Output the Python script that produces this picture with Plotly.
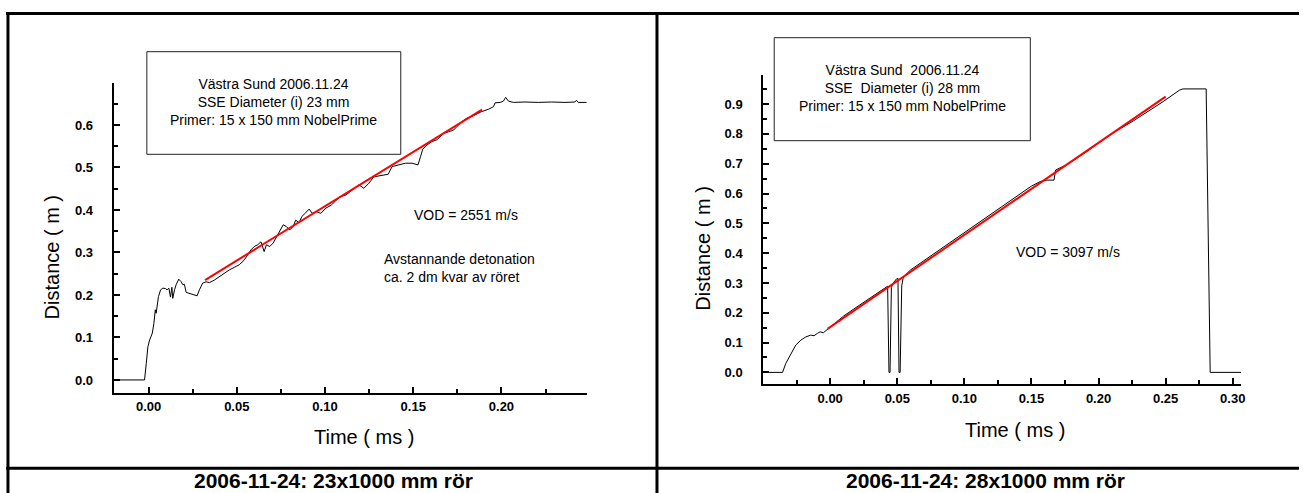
import plotly.graph_objects as go

# ---------------- data ----------------
# Left panel: 23 mm tube
time_left = [-0.020, -0.0023, -0.0013, -0.0004, 0.0006, 0.0021, 0.0030, 0.0038, 0.0043, 0.0049,
             0.0056, 0.0068, 0.0081, 0.0096, 0.0105, 0.0115, 0.0124, 0.0132, 0.0137, 0.0147,
             0.0156, 0.0171, 0.0185, 0.0194, 0.0203, 0.0213, 0.0232, 0.0250, 0.0275, 0.0288,
             0.0307, 0.0326, 0.0345, 0.0373, 0.0401, 0.0429, 0.0458, 0.0486, 0.0514, 0.0542,
             0.0561, 0.0580, 0.0599, 0.0618, 0.0637, 0.0655, 0.0668, 0.0687, 0.0706, 0.0725,
             0.0744, 0.0763, 0.0781, 0.0800, 0.0819, 0.0834, 0.0853, 0.0868, 0.0887, 0.0910,
             0.0928, 0.0950, 0.0976, 0.1004, 0.1037, 0.1084, 0.1117, 0.1164, 0.1192, 0.1220,
             0.1249, 0.1277, 0.1324, 0.1358, 0.1380, 0.1418, 0.1456, 0.1493, 0.1527, 0.1541,
             0.1554, 0.1578, 0.1606, 0.1634, 0.1654, 0.1672, 0.1700, 0.1729, 0.1747, 0.1776,
             0.1804, 0.1832, 0.1885, 0.1927, 0.1955, 0.1964, 0.1993, 0.2011, 0.2024, 0.2040,
             0.2068, 0.2134, 0.2209, 0.2284, 0.2360, 0.2416, 0.2425, 0.2435, 0.2482]
dist_left = [0, 0, 0.039, 0.078, 0.094, 0.110, 0.133, 0.165, 0.157, 0.180,
             0.196, 0.212, 0.216, 0.215, 0.212, 0.216, 0.195, 0.218, 0.192, 0.212,
             0.224, 0.237, 0.231, 0.224, 0.225, 0.206, 0.204, 0.201, 0.198, 0.212,
             0.228, 0.231, 0.229, 0.235, 0.243, 0.251, 0.259, 0.265, 0.271, 0.282,
             0.294, 0.306, 0.314, 0.318, 0.325, 0.302, 0.318, 0.314, 0.322, 0.337,
             0.351, 0.365, 0.361, 0.353, 0.361, 0.376, 0.370, 0.384, 0.392, 0.402,
             0.392, 0.396, 0.392, 0.404, 0.412, 0.431, 0.435, 0.451, 0.459, 0.451,
             0.463, 0.478, 0.481, 0.484, 0.502, 0.506, 0.510, 0.510, 0.506, 0.525,
             0.543, 0.553, 0.561, 0.565, 0.572, 0.580, 0.584, 0.588, 0.596, 0.608,
             0.616, 0.620, 0.631, 0.637, 0.643, 0.652, 0.653, 0.656, 0.665, 0.656,
             0.653, 0.654, 0.653, 0.654, 0.653, 0.654, 0.658, 0.653, 0.653]
fit_time_left = [0.032, 0.189]
fit_dist_left = [0.235, 0.636]

# Right panel: 28 mm tube
time_right = [-0.050, -0.0355, -0.0331, -0.0293, -0.0256, -0.0219, -0.0182, -0.0145, -0.0120, -0.0095,
              -0.0075, -0.0051, -0.0021, 0.010, 0.020, 0.030, 0.038, 0.042, 0.0428, 0.0438,
              0.0446, 0.0456, 0.0470, 0.0495, 0.0505, 0.0513, 0.0521, 0.0533, 0.0545, 0.060,
              0.070, 0.087, 0.100, 0.119, 0.137, 0.150, 0.1564, 0.1614, 0.1668, 0.1680,
              0.1760, 0.1910, 0.2080, 0.2260, 0.2480, 0.2604, 0.2629, 0.2802, 0.2832, 0.3062]
dist_right = [0, 0, 0.030, 0.064, 0.092, 0.108, 0.119, 0.125, 0.123, 0.131,
              0.136, 0.133, 0.144, 0.189, 0.220, 0.251, 0.276, 0.287, 0.289, 0.0,
              0.0, 0.285, 0.300, 0.314, 0.315, 0.0, 0.0, 0.290, 0.320, 0.344,
              0.375, 0.427, 0.467, 0.528, 0.584, 0.625, 0.640, 0.645, 0.645, 0.679,
              0.696, 0.740, 0.796, 0.844, 0.908, 0.947, 0.951, 0.951, 0.0, 0.0]
fit_time_right = [-0.002, 0.250]
fit_dist_right = [0.146, 0.925]

x_title = "Time ( ms )"
y_title = "Distance ( m )"
box_left = ["Västra Sund 2006.11.24", "SSE Diameter (i) 23 mm", "Primer: 15 x 150 mm NobelPrime"]
box_right = ["Västra Sund\u00a0 2006.11.24", "SSE\u00a0 Diameter (i) 28 mm", "Primer: 15 x 150 mm NobelPrime"]
vod_left = "VOD = 2551 m/s"
vod_right = "VOD = 3097 m/s"
note_left = ["Avstannande detonation", "ca. 2 dm kvar av röret"]
caption_left = "2006-11-24: 23x1000 mm rör"
caption_right = "2006-11-24: 28x1000 mm rör"

# ---------------- layout helpers ----------------
W, H = 1303, 493
FONT = "Arial, Liberation Sans, sans-serif"


def px(x):
    return x / W


def py(y):
    return 1 - y / H


fig = go.Figure()
fig.add_trace(go.Scatter(x=time_left, y=dist_left, mode="lines",
                         line=dict(color="black", width=1), xaxis="x", yaxis="y", showlegend=False))
fig.add_trace(go.Scatter(x=fit_time_left, y=fit_dist_left, mode="lines",
                         line=dict(color="#ff0000", width=2), xaxis="x", yaxis="y", showlegend=False))
fig.add_trace(go.Scatter(x=time_right, y=dist_right, mode="lines",
                         line=dict(color="black", width=1), xaxis="x2", yaxis="y2", showlegend=False))
fig.add_trace(go.Scatter(x=fit_time_right, y=fit_dist_right, mode="lines",
                         line=dict(color="#ff0000", width=2), xaxis="x2", yaxis="y2", showlegend=False))

tickfont = dict(family=FONT, size=13, color="black", weight="bold")


def xax(domain, rng, anchor, standoff):
    return dict(domain=domain, range=rng, anchor=anchor, showline=True, linecolor="black", linewidth=2,
                ticks="inside", ticklen=6, tickwidth=2, tickcolor="black", tick0=0, dtick=0.05,
                tickformat=".2f", tickfont=tickfont, showgrid=False, zeroline=False,
                ticklabelstandoff=standoff,
                minor=dict(ticks="inside", ticklen=4, tickwidth=2, tickcolor="black", dtick=0.025,
                           showgrid=False))


def yax(domain, rng, anchor):
    return dict(domain=domain, range=rng, anchor=anchor, showline=True, linecolor="black", linewidth=2,
                ticks="inside", ticklen=6, tickwidth=2, tickcolor="black", tick0=0, dtick=0.1,
                tickformat=".1f", tickfont=tickfont, showgrid=False, zeroline=False,
                ticklabelstandoff=16,
                minor=dict(ticks="inside", ticklen=4, tickwidth=2, tickcolor="black", dtick=0.05,
                           showgrid=False))


fig.update_layout(
    width=W, height=H,
    margin=dict(l=0, r=0, t=0, b=0),
    paper_bgcolor="white", plot_bgcolor="white",
    font=dict(family=FONT, color="black"),
    hovermode=False,
    xaxis=xax([px(114), px(589)], [-0.0198, 0.2486], "y", 1),
    yaxis=yax([py(392.7), py(83.3)], [-0.030, 0.698], "x"),
    xaxis2=xax([px(765.6), px(1245)], [-0.0499, 0.3063], "y2", 1),
    yaxis2=yax([py(384.3), py(74.6)], [-0.040, 0.999], "x2"),
)

shapes = []
# table borders
border = dict(type="line", xref="paper", yref="paper", line=dict(color="black", width=3))
shapes.append({**border, "x0": px(6), "x1": 1.0, "y0": py(13.5), "y1": py(13.5)})
shapes.append({**border, "x0": px(8), "x1": px(8), "y0": py(12), "y1": 0})
shapes.append({**border, "x0": px(659), "x1": px(659), "y0": py(12), "y1": 0})
shapes.append({**border, "x0": px(6), "x1": 1.0, "y0": py(468.3), "y1": py(468.3)})
# text boxes
boxline = dict(color="#222222", width=1)
shapes.append(dict(type="rect", xref="paper", yref="paper", x0=px(147.3), x1=px(402),
                   y0=py(154.3), y1=py(51.7), line=boxline))
shapes.append(dict(type="rect", xref="paper", yref="paper", x0=px(776.6), x1=px(1033.5),
                   y0=py(140.7), y1=py(37.7), line=boxline))
fig.update_layout(shapes=shapes)

ann = []


def text(x, y, s, size, bold=False, angle=0, xanchor="center", align="center", pad=1):
    ann.append(dict(x=px(x), y=py(y), xref="paper", yref="paper", text=s, showarrow=False,
                    xanchor=xanchor, yanchor="middle", align=align, textangle=angle, borderpad=pad,
                    font=dict(family=FONT, size=size, color="black",
                              weight="bold" if bold else "normal")))


text(274.5, 102, "<br>".join(box_left), 14)
text(905, 88.3, "<br>".join(box_right), 14)
text(467.8, 215, vod_left, 14)
text(1071.7, 252.3, vod_right, 14)
text(382.7, 268, "<br>".join(note_left), 14, xanchor="left", align="left")
text(365, 436.7, x_title, 20)
text(1018.5, 430, x_title, 20)
text(52.6, 257, y_title, 20, angle=-90)
text(705.5, 248.3, y_title, 20, angle=-90)
text(334.6, 480, caption_left, 21, bold=True, pad=0)
text(989, 480, caption_right, 21, bold=True, pad=0)
fig.update_layout(annotations=ann)

fig.write_html("out.html", config={"displayModeBar": False, "staticPlot": True},
               post_script="document.body.style.margin='0px';document.body.style.overflow='hidden';")
